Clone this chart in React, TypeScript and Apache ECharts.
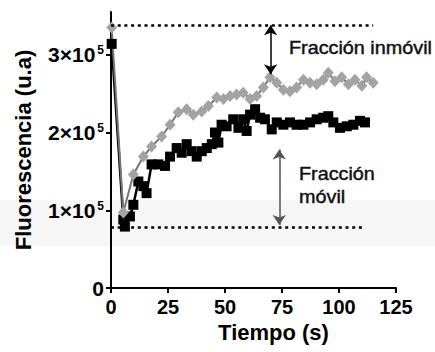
import React, { useEffect, useRef } from 'react';
import * as echarts from 'echarts';

// ---- axes ----
const xTickValues = [0, 25, 50, 75, 100, 125];
const yTickValues = [0, 100000, 200000, 300000];
const yTickBase = ['0', '1×10', '2×10', '3×10'];
const yTickExp = ['', '5', '5', '5'];
const xName = 'Tiempo (s)';
const yName = 'Fluorescencia (u.a)';

// ---- grey series (diamonds) ----
const grayTime = [0.3, 5.4, 9.8, 14.2, 17.8, 22.2, 25.9, 29.5, 33.2, 36.1, 39.8, 42.7, 46.4, 49.3, 52.2, 55.1, 58, 61, 63.9, 66.8, 69.7, 72.7, 75.6, 78.5, 81.4, 84.4, 87.3, 90.2, 93.1, 95.3, 98.2, 101.2, 104.1, 107, 110, 112.1, 115];
const grayValue = [335000, 97000, 146000, 169000, 182000, 195000, 210000, 226000, 230000, 223000, 227000, 234000, 245000, 243000, 247000, 249000, 251000, 243000, 247000, 258000, 271000, 264000, 255000, 253000, 258000, 268000, 264000, 262000, 268000, 277000, 266000, 271000, 262000, 268000, 260000, 271000, 264000];

// ---- black series (squares) ----
const blackTime = [0.3, 5.4, 6.1, 8.3, 9.8, 12, 14.2, 15.6, 17.8, 20.8, 23.7, 25.9, 28.8, 31, 33.2, 35.4, 37.6, 39.8, 42, 44.2, 45.6, 47.1, 48.5, 50.7, 53.6, 55.9, 58, 59.5, 61, 63.2, 65.4, 67.5, 70.5, 72.7, 75.6, 78.5, 81.4, 84.4, 87.3, 90.2, 93.1, 95.3, 97.5, 100.4, 103.4, 106.3, 109.2, 111.4];
const blackValue = [314000, 88000, 79000, 92000, 107000, 137000, 131000, 122000, 159000, 159000, 157000, 169000, 180000, 174000, 185000, 176000, 169000, 176000, 180000, 185000, 200000, 187000, 210000, 208000, 217000, 206000, 217000, 202000, 223000, 230000, 219000, 217000, 204000, 213000, 210000, 213000, 210000, 210000, 213000, 217000, 219000, 221000, 213000, 206000, 208000, 210000, 215000, 213000];

// ---- reference lines & arrows ----
const topLevel = 338000;
const topLineEnd = 115;
const bottomLevel = 78000;
const bottomLineEnd = 110.5;
const immobileArrowTime = 70;
const immobileArrowTo = 275000;
const mobileArrowTime = 73.8;
const mobileArrowFrom = 178000;
const mobileArrowTo = 81000;

// ---- annotation texts ----
const labelImmobile = 'Fracción inmóvil';
const labelMobile = ['Fracción', 'móvil'];

const FONT = '"Liberation Sans", Arial, Helvetica, sans-serif';

export default function App() {
  const ref = useRef<HTMLDivElement>(null);

  useEffect(() => {
    document.body.style.margin = '0';
    if (!ref.current) return;
    const chart = echarts.init(ref.current, undefined, { renderer: 'svg' });

    const grayData = grayTime.map((t, i) => [t, grayValue[i]]);
    const blackData = blackTime.map((t, i) => [t, blackValue[i]]);

    const annotStyle = { fontSize: 18, fontFamily: FONT, fill: '#111', stroke: '#111', lineWidth: 0.45, verticalAlign: 'middle', align: 'left' };

    const option: any = {
      animation: false,
      backgroundColor: '#ffffff',
      textStyle: { fontFamily: FONT },
      grid: { left: 111, right: 39, top: 12, bottom: 64 },
      xAxis: {
        type: 'value',
        min: 0,
        max: 125,
        interval: 25,
        name: xName,
        nameLocation: 'middle',
        nameGap: 30,
        nameTextStyle: { fontSize: 22, fontWeight: 'bold', color: '#000', fontFamily: FONT, padding: [0, 0, 0, 40] },
        axisLine: { show: true, onZero: false, lineStyle: { color: '#000', width: 2 } },
        axisTick: { show: true, length: 5, lineStyle: { color: '#000', width: 2 } },
        axisLabel: {
          fontSize: 20,
          fontWeight: 'bold',
          color: '#000',
          fontFamily: FONT,
          margin: 9,
          customValues: xTickValues,
        },
        splitLine: { show: false },
      },
      yAxis: {
        type: 'value',
        min: 0,
        max: 355000,
        name: yName,
        nameLocation: 'middle',
        nameGap: 77,
        nameRotate: 90,
        nameTextStyle: { fontSize: 22, fontWeight: 'bold', color: '#000', fontFamily: FONT },
        axisLine: { show: true, onZero: false, lineStyle: { color: '#000', width: 2 } },
        axisTick: { show: true, length: 5, customValues: yTickValues, lineStyle: { color: '#000', width: 2 } },
        axisLabel: {
          customValues: yTickValues,
          margin: 7,
          formatter: (v: number) => {
            const i = yTickValues.indexOf(v);
            if (i < 0) return '';
            return yTickExp[i] ? `{a|${yTickBase[i]}}{b|${yTickExp[i]}}` : `{a|${yTickBase[i]}}`;
          },
          rich: {
            a: { fontSize: 21, fontWeight: 'bold', color: '#000', fontFamily: FONT },
            b: { fontSize: 12, fontWeight: 'bold', color: '#000', fontFamily: FONT, padding: [0, 0, 9, 2] },
          },
        },
        splitLine: { show: false },
      },
      graphic: [
        { type: 'rect', z: -20, silent: true, shape: { x: 0, y: 200, width: 435, height: 46 }, style: { fill: '#f6f6f6' } },
        { type: 'text', z: 100, x: 289, y: 48, scaleX: 1.1, style: { ...annotStyle, text: labelImmobile } },
        { type: 'text', z: 100, x: 299, y: 174, scaleX: 1.1, style: { ...annotStyle, text: labelMobile[0] } },
        { type: 'text', z: 100, x: 299, y: 197, scaleX: 1.1, style: { ...annotStyle, text: labelMobile[1] } },
      ],
      series: [
        {
          name: 'Total',
          type: 'line',
          data: blackData,
          symbol: 'rect',
          symbolSize: 10,
          itemStyle: { color: '#000' },
          lineStyle: { color: '#000', width: 2.5 },
          emphasis: { disabled: true },
          markLine: {
            silent: true,
            animation: false,
            label: { show: false },
            emphasis: { disabled: true },
            data: [
              [
                { coord: [0, topLevel], symbol: 'none', lineStyle: { color: '#000', width: 2.5, type: [3, 3.7] } },
                { coord: [topLineEnd, topLevel], symbol: 'none' },
              ],
              [
                { coord: [0, bottomLevel], symbol: 'none', lineStyle: { color: '#000', width: 2.5, type: [3, 3.7] } },
                { coord: [bottomLineEnd, bottomLevel], symbol: 'none' },
              ],
              [
                { coord: [immobileArrowTime, topLevel], symbol: 'arrow', symbolSize: 10, lineStyle: { color: '#000', width: 1.5, type: 'solid' } },
                { coord: [immobileArrowTime, immobileArrowTo], symbol: 'arrow', symbolSize: 10 },
              ],
              [
                { coord: [mobileArrowTime, mobileArrowFrom], symbol: 'arrow', symbolSize: 10, lineStyle: { color: '#555', width: 1.5, type: 'solid' } },
                { coord: [mobileArrowTime, mobileArrowTo], symbol: 'arrow', symbolSize: 10 },
              ],
            ],
          },
        },
        {
          name: 'Inmóvil',
          type: 'line',
          data: grayData,
          symbol: 'diamond',
          symbolSize: [11, 12],
          itemStyle: { color: '#a3a3a3' },
          lineStyle: { color: '#777', width: 2 },
          emphasis: { disabled: true },
        },
      ],
    };

    chart.setOption(option);
    return () => chart.dispose();
  }, []);

  return <div ref={ref} style={{ position: 'fixed', left: 0, top: 0, width: 435, height: 352 }} />;
}
